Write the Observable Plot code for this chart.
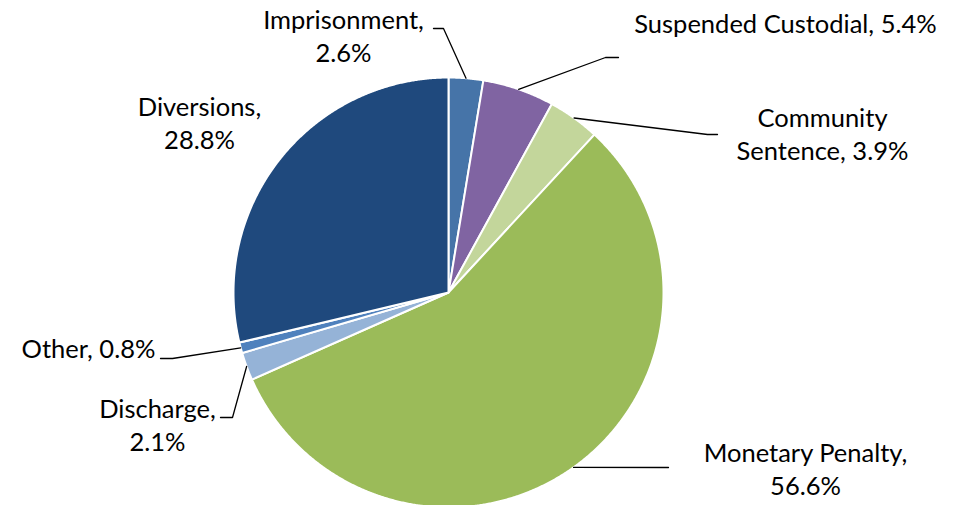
<!DOCTYPE html>
<html><head><meta charset="utf-8">
<script src="https://cdn.jsdelivr.net/npm/d3@7"></script>
<script src="https://cdn.jsdelivr.net/npm/@observablehq/plot@0.6"></script>
<style>body{margin:0;background:#fff}</style>
</head><body><div id="chart"></div>
<script>
// ---- data ----
const categories = ["Imprisonment", "Suspended Custodial", "Community Sentence", "Monetary Penalty", "Discharge", "Other", "Diversions"];
const shares = [2.6, 5.4, 3.9, 56.6, 2.1, 0.8, 28.8];
const labelTexts = ["Imprisonment,\n2.6%", "Suspended Custodial, 5.4%", "Community\nSentence, 3.9%", "Monetary Penalty,\n56.6%", "Discharge,\n2.1%", "Other, 0.8%", "Diversions,\n28.8%"];
const colors = ["#4674A8", "#8064A2", "#C3D69B", "#9BBB59", "#95B3D7", "#4F81BD", "#1F497D"];

// ---- layout (pixels) ----
const W = 960, H = 505, CX = 448, CY = 292, R = 215;
const labelPos = [[343, 34], [785, 22], [822, 132], [805, 467], [157, 423], [88, 347], [199, 121]];
const leaderElbow = [[443, 28], [605, 57], [707, 134], [668, 467], [232, 417], [172, 358], null];
const leaderEnd = [[433, 28], [618, 57], [717, 134], [668, 467], [220, 417], [160, 358], null];

const ux = px => (px - CX) / R, uy = py => (CY - py) / R;

const arcs = d3.pie().sort(null).value(d => d)(shares);
const slicePts = [];
arcs.forEach((a, i) => {
  const cat = categories[i];
  slicePts.push({cat, x: 0, y: 0});
  const n = Math.max(2, Math.ceil((a.endAngle - a.startAngle) / 0.005));
  for (let k = 0; k <= n; k++) {
    const t = a.startAngle + (a.endAngle - a.startAngle) * k / n;
    slicePts.push({cat, x: Math.sin(t), y: Math.cos(t)});
  }
  slicePts.push({cat, x: 0, y: 0});
});

const leaders = [];
arcs.forEach((a, i) => {
  if (!leaderElbow[i]) return;
  const m = (a.startAngle + a.endAngle) / 2;
  leaders.push({cat: categories[i], x: Math.sin(m), y: Math.cos(m)});
  leaders.push({cat: categories[i], x: ux(leaderElbow[i][0]), y: uy(leaderElbow[i][1])});
  leaders.push({cat: categories[i], x: ux(leaderEnd[i][0]), y: uy(leaderEnd[i][1])});
});

const labelRows = categories.map((c, i) => ({cat: c, text: labelTexts[i], x: ux(labelPos[i][0]), y: uy(labelPos[i][1])}));

const chart = Plot.plot({
  width: W, height: H,
  margin: 0,
  x: {domain: [ux(0), ux(W)], axis: null},
  y: {domain: [uy(H), uy(0)], axis: null},
  color: {domain: categories, range: colors},
  style: {background: "#fff"},
  marks: [
    Plot.line(slicePts, {x: "x", y: "y", z: "cat", fill: "cat", stroke: "white", strokeWidth: 2, strokeLinejoin: "round", curve: "linear"}),
    Plot.line(leaders, {x: "x", y: "y", z: "cat", stroke: "black", strokeWidth: 1.3, curve: "linear"}),
    Plot.text(labelRows, {x: "x", y: "y", text: "text", fontSize: 25.5, lineHeight: 1.3, textAnchor: "middle", lineAnchor: "middle", fill: "black", fontFamily: "Lato"})
  ]
});
document.getElementById("chart").appendChild(chart);
</script>
</body></html>
